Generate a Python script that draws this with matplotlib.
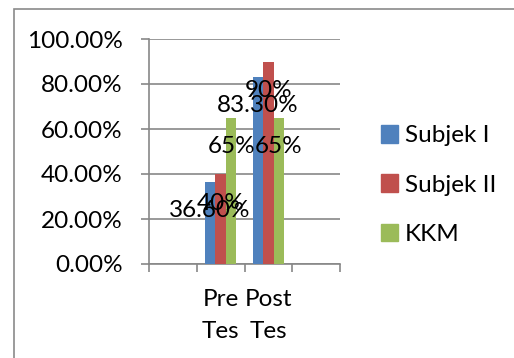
import matplotlib
matplotlib.use("Agg")
import matplotlib.pyplot as plt
from matplotlib.patches import Rectangle, Patch
import numpy as np

# data
categories = ["", "Pre\nTes", "Post\nTes", ""]
series_names = ["Subjek I", "Subjek II", "KKM"]
subjek1 = [36.6, 83.3]
subjek2 = [40, 90]
kkm = [65, 65]
value_labels = [["36.60%", "83.30%"], ["40%", "90%"], ["65%", "65%"]]
y_ticks = [0, 20, 40, 60, 80, 100]
y_tick_labels = ["0.00%", "20.00%", "40.00%", "60.00%", "80.00%", "100.00%"]

_COLORS = ["#4F81BD", "#C0504D", "#9BBB59"]
GRID = "#878787"
FS = 17.5

plt.rcParams["font.family"] = ["Lato", "DejaVu Sans"]

fig = plt.figure(figsize=(5.14, 3.58), dpi=100)
fig.patch.set_facecolor("white")

# outer chart border (runs off the picture on right/bottom)
fig.patches.append(Rectangle((14 / 514, -0.1), 1.2, (358 - 9) / 358 + 0.1,
                             transform=fig.transFigure, fill=False,
                             edgecolor="#8a8a8a", linewidth=1.2))

ax = fig.add_axes([149 / 514, 94 / 358, 191 / 514, 225 / 358])
ax.set_xlim(-0.5, 3.5)
ax.set_ylim(0, 100)

x_pos = np.array([1, 2])
width = 0.22
all_vals = [subjek1, subjek2, kkm]
for k, vals in enumerate(all_vals):
    xs = x_pos + (k - 1) * width
    ax.bar(xs, vals, width=width, color=_COLORS[k], label=series_names[k], zorder=3)
    for x, v, lab in zip(xs, vals, value_labels[k]):
        ax.annotate(lab, (x, v), xytext=(0, -21), textcoords="offset points",
                    ha="center", va="center", fontsize=FS, color="black", zorder=5)

ax.set_yticks(y_ticks)
ax.set_yticklabels(y_tick_labels, fontsize=FS)
ax.set_xticks([-0.5, 0.5, 1.5, 2.5, 3.5])
ax.set_xticklabels([])
ax.set_xticks(range(len(categories)), minor=True)
ax.set_xticklabels(categories, minor=True, fontsize=FS, linespacing=1.65)
ax.tick_params(axis="x", which="minor", length=0, pad=18)
ax.tick_params(axis="x", which="major", length=6, width=1.2, color=GRID, direction="out")
ax.tick_params(axis="y", length=6, width=1.2, color=GRID, pad=13)
ax.grid(axis="y", color=GRID, linewidth=1.2, zorder=0)
for s in ["top", "right"]:
    ax.spines[s].set_visible(False)
for s in ["left", "bottom"]:
    ax.spines[s].set_color(GRID)
    ax.spines[s].set_linewidth(1.2)

handles = [Patch(color=c) for c in _COLORS]
fig.legend(handles, series_names, loc="center left", bbox_to_anchor=(359 / 514, 1 - 185 / 358),
           frameon=False, fontsize=FS, handlelength=0.7, handleheight=0.75,
           labelspacing=1.15, handletextpad=0.3)

fig.savefig("out.png", dpi=100)
